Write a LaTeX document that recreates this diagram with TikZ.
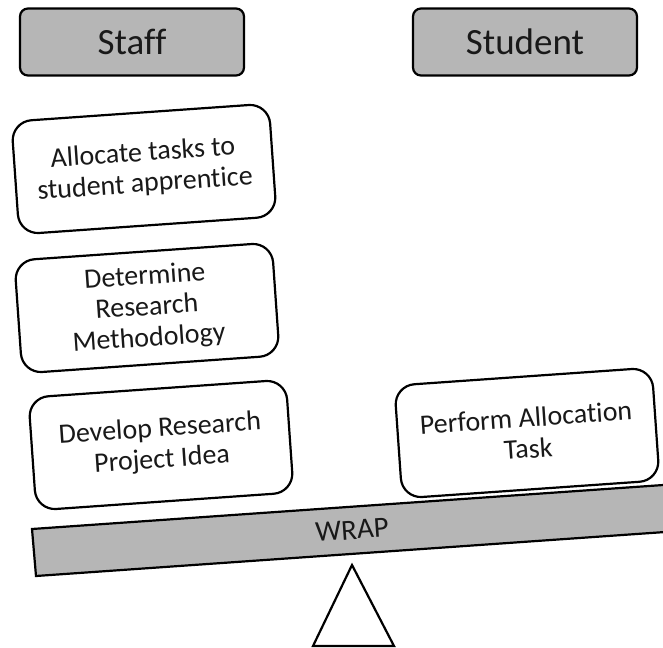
\documentclass[tikz,border=0pt]{standalone}
\usepackage{fontspec}
\setmainfont{Carlito}[Ligatures=NoCommon]
\begin{document}
\begin{tikzpicture}[x=1pt,y=-1pt,
  hdrbox/.style={draw=black, fill=gray!50!white!95!black, line width=2.2pt, rounded corners=8pt,
    minimum width=224pt, minimum height=67pt, inner sep=0pt,
    font=\fontsize{37}{40}\selectfont, text=black!90},
  taskbox/.style={draw=black, fill=white, line width=2.2pt, rounded corners=20pt,
    minimum width=258pt, minimum height=113pt, inner sep=0pt, align=center,
    rotate=4, font=\fontsize{28}{31}\selectfont, text=black!90},
  beamfill/.style={draw=black, fill=gray!50!white!95!black, line width=2.2pt},
  pivot/.style={draw=black, fill=white, line width=2.2pt, line join=miter}
]
\useasboundingbox (0,0) rectangle (663,647);
\clip (0,0) rectangle (663,647);
% headers
\node[hdrbox] (staff) at (132,42) {Staff};
\node[hdrbox] (student) at (525,42) {Student};
% staff stack
\node[taskbox] (allocate) at (144,169) {Allocate tasks to\\student apprentice};
\node[taskbox] (determine) at (147,308) {Determine\\Research\\Methodology};
\node[taskbox] (develop) at (161,445) {Develop Research\\Project Idea};
% student
\node[taskbox] (perform) at (527,433) {Perform Allocation\\Task};
% beam
\draw[beamfill] (32,529) -- (36,576) -- ++(-4:720) -- ++(-94:47) -- cycle;
\node[rotate=4, font=\fontsize{29}{30}\selectfont, text=black!90, inner sep=0pt] (wrap) at (352,530) {WRAP};
% pivot
\draw[pivot] (352,565) -- (394,646) -- (313,646) -- cycle;
\end{tikzpicture}
\end{document}
